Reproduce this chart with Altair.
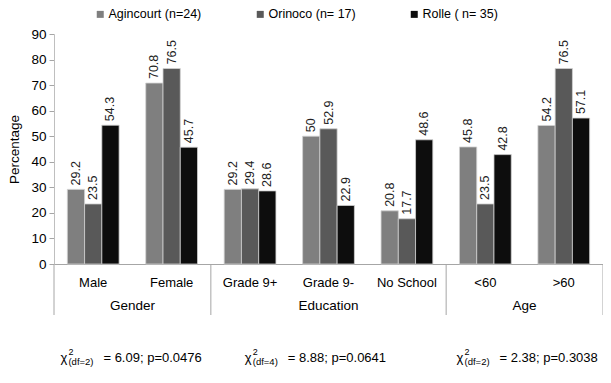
import altair as alt
import pandas as pd

categories = ["Male", "Female", "Grade 9+", "Grade 9-", "No School", "<60", ">60"]
series = ["Agincourt (n=24)", "Orinoco (n= 17)", "Rolle ( n= 35)"]
agincourt = [29.2, 70.8, 29.2, 50, 20.8, 45.8, 54.2]
orinoco = [23.5, 76.5, 29.4, 52.9, 17.7, 23.5, 76.5]
rolle = [54.3, 45.7, 28.6, 22.9, 48.6, 42.8, 57.1]

groups = ["Gender", "Education", "Age"]
group_bounds = [0, 2, 5, 7]
group_centers = [1, 3.5, 6]

chi_pos = [1.0, 3.35, 6.05]
chi_df = ["2", "4", "2"]
chi_stat = ["6.09", "8.88", "2.38"]
chi_p = ["0.0476", "0.0641", "0.3038"]

rows = []
for s, vals in zip(series, [agincourt, orinoco, rolle]):
    for c, v in zip(categories, vals):
        rows.append({"cat": c, "series": s, "value": v, "label": f"{v:g}"})
df = pd.DataFrame(rows)

FONT = "Liberation Sans"
colors = ["#7f7f7f", "#595959", "#0d0d0d"]

x = alt.X(
    "cat:N", sort=categories,
    scale=alt.Scale(paddingInner=0.34, paddingOuter=0.17),
    axis=alt.Axis(title=None, labelAngle=0, ticks=False, domainColor="#a6a6a6",
                  labelPadding=12, labelFontSize=13, labelColor="#000", labelFont=FONT),
)
xo = alt.XOffset("series:N", sort=series, scale=alt.Scale(paddingInner=0, paddingOuter=0))
y = alt.Y(
    "value:Q", scale=alt.Scale(domain=[0, 90], nice=False),
    axis=alt.Axis(title="Percentage", values=list(range(0, 91, 10)), grid=False,
                  tickSize=5, tickColor="#a6a6a6", domainColor="#bfbfbf",
                  labelFontSize=13.5, labelColor="#000", labelFont=FONT, labelPadding=3,
                  titleFont=FONT, titleFontSize=13.5, titleFontWeight="normal",
                  titleColor="#000", titlePadding=9),
)

bars = alt.Chart(df).mark_bar(stroke="#d0d0d0", strokeWidth=0.8).encode(
    x=x, xOffset=xo, y=y,
    color=alt.Color(
        "series:N", sort=series, scale=alt.Scale(domain=series, range=colors),
        legend=alt.Legend(title=None, orient="none", direction="horizontal",
                          legendX=40, legendY=-26, symbolType="square", symbolSize=49,
                          symbolStrokeWidth=0, labelFontSize=12.5, labelFont=FONT,
                          labelColor="#000", columnPadding=52, labelOffset=2, padding=0),
    ),
)
labels = alt.Chart(df).mark_text(
    angle=270, align="left", baseline="middle", dx=4, fontSize=12.5, font=FONT, color="#222"
).encode(x=x, xOffset=xo, y=y, text="label:N")

main = alt.layer(bars, labels)

xq = alt.X("pos:Q", scale=alt.Scale(domain=[0, 7], nice=False, zero=False), axis=None)

sep_df = pd.DataFrame({"pos": group_bounds})
seps = alt.Chart(sep_df).mark_rule(color="#a6a6a6", strokeWidth=1).encode(
    x=xq, y=alt.value(230), y2=alt.value(281)
)

grp_df = pd.DataFrame({"pos": group_centers, "name": groups})
grp = alt.Chart(grp_df).mark_text(fontSize=13.5, font=FONT, baseline="middle", color="#000").encode(
    x=xq, y=alt.value(272), text="name:N"
)

chi_data = pd.DataFrame({"pos": chi_pos, "df": chi_df, "stat": chi_stat, "p": chi_p})
base_chi = alt.Chart(chi_data)
chi_sym = base_chi.mark_text(align="left", baseline="middle", dx=-72, fontSize=13, font=FONT, color="#000").encode(
    x=xq, y=alt.value(324), text=alt.value("χ"))
chi_sup = base_chi.mark_text(align="left", baseline="middle", dx=-64, dy=-6, fontSize=9, font=FONT, color="#000").encode(
    x=xq, y=alt.value(324), text=alt.value("2"))
chi_sub = base_chi.transform_calculate(sub="'(df=' + datum.df + ')'").mark_text(
    align="left", baseline="middle", dx=-64, dy=4, fontSize=9.5, font=FONT, color="#000").encode(
    x=xq, y=alt.value(324), text="sub:N")
chi_rest = base_chi.transform_calculate(rest="'= ' + datum.stat + '; p=' + datum.p").mark_text(
    align="left", baseline="middle", dx=-29, fontSize=13, font=FONT, color="#000").encode(
    x=xq, y=alt.value(324), text="rest:N")

extra = alt.layer(seps, grp, chi_sym, chi_sup, chi_sub, chi_rest)

chart = alt.layer(main, extra).resolve_scale(x="independent").properties(
    width=549, height=230,
    padding={"left": 46, "top": 26, "right": 0, "bottom": 111},
    autosize="none",
).configure_view(stroke=None)

chart.save("out.html", embed_options={"renderer": "svg", "actions": False})
